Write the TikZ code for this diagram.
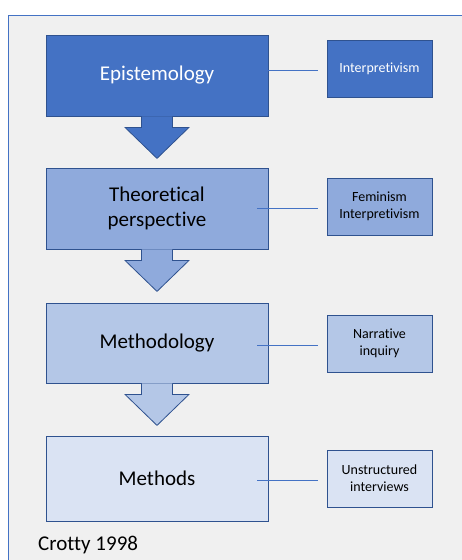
\documentclass[tikz,border=0pt]{standalone}
\usepackage{fontspec}
\setmainfont{Carlito}[Ligatures={NoCommon}]
\definecolor{acc}{HTML}{4472C4}
\definecolor{dk}{HTML}{2F528F}
\definecolor{lv1}{HTML}{4472C4}
\definecolor{lv2}{HTML}{8FAADC}
\definecolor{lv3}{HTML}{B4C7E7}
\definecolor{lv4}{HTML}{DAE3F3}
\definecolor{bg}{HTML}{F0F0F0}
\tikzset{big/.style = {draw=dk, line width=0.8pt, minimum width=222pt, minimum height=81pt, inner sep=0pt, align=center, font=\fontsize{21}{25}\selectfont},
          sm/.style = {draw=dk, line width=0.8pt, minimum width=105pt, minimum height=57pt, inner sep=0pt, align=center, font=\fontsize{14}{17}\selectfont},
          ln/.style = {draw=acc, line width=0.8pt},
          dn/.style = {draw=dk, line width=0.8pt}}

\begin{document}
\begin{tikzpicture}[x=1pt, y=-1pt]
    \useasboundingbox (0,0) rectangle (461,560);
    \fill[white] (0,0) rectangle (461,560);
    \filldraw[fill=bg, draw=acc, line width=0.8pt] (8,15) rectangle (475,575);
    \node[big, fill=lv1, text=white] (e) at (157,75.5) {Epistemology};
    \node[big, fill=lv2] (t) at (157,208.5) {Theoretical\\perspective};
    \node[big, fill=lv3, minimum height=80pt] (m) at (157,343) {Methodology};
    \node[big, fill=lv4, minimum height=85pt] (x) at (157,478.5) {Methods};
    \node[sm, fill=lv1, text=white] (ie) at (379.5,68.5) {Interpretivism};
    \node[sm, fill=lv2] (it) at (379.5,206.5) {Feminism\\Interpretivism};
    \node[sm, fill=lv3] (im) at (379.5,343.5) {Narrative\\inquiry};
    \node[sm, fill=lv4] (ix) at (379.5,478.5) {Unstructured\\interviews};
    \node[anchor=west, inner sep=0pt, font=\fontsize{21}{25}\selectfont] (src) at (38,545) {Crotty 1998};
    \foreach \a/\c in {e/lv1, t/lv2, m/lv3}
      \filldraw[dn, fill=\c] ([xshift=-15.5pt]\a.south) -- ++(0,11) -- ++(-16.5,0) -- ++(32,31)
        -- ++(32,-31) -- ++(-16.5,0) -- ++(0,-11);
    \foreach \a/\b in {e/ie, t/it, m/im, x/ix}
      \draw[ln] ([xshift=-11pt, yshift=-1.5pt]\a.east |- \b.west) -- ([xshift=-9pt, yshift=-1.5pt]\b.west);
\end{tikzpicture}
\end{document}
